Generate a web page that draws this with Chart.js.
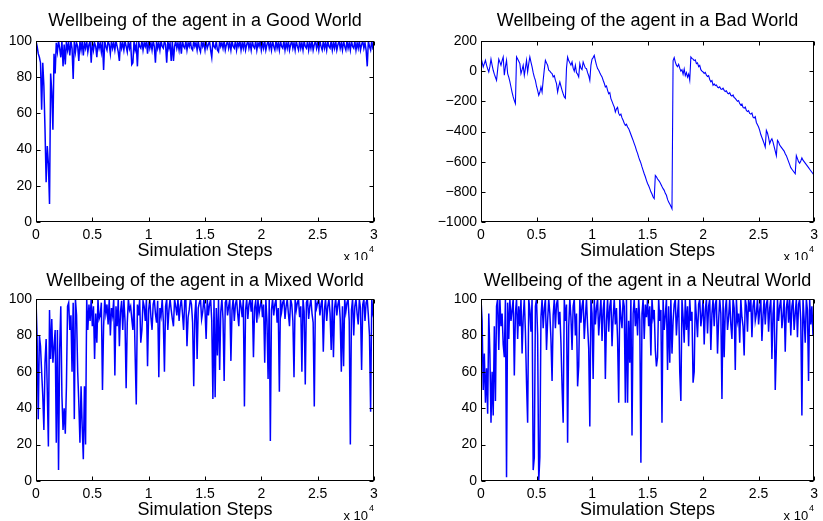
<!DOCTYPE html>
<html>
<head>
<meta charset="utf-8">
<script src="https://cdn.jsdelivr.net/npm/chart.js@4.4.1/dist/chart.umd.min.js"></script>
<style>
  html, body { margin: 0; padding: 0; background: #fff; }
  #wrap { position: relative; width: 823px; height: 521px; }
  canvas { position: absolute; }
</style>
</head>
<body>
<div id="wrap">
  <canvas id="good" width="411" height="260" style="left:0;top:0"></canvas>
  <canvas id="bad" width="412" height="260" style="left:411px;top:0"></canvas>
  <canvas id="mixed" width="411" height="261" style="left:0;top:260px"></canvas>
  <canvas id="neutral" width="412" height="261" style="left:411px;top:260px"></canvas>
</div>
<script>
// one sample every STEP simulation steps
const STEP = 100;
const xTicks = [0, 5000, 10000, 15000, 20000, 25000, 30000];
const xLabel = "Simulation Steps";

const goodWorld = [
  100, 97, 93, 91, 88, 62, 88, 75, 51, 22,
  42, 32, 10, 82, 72, 51, 93, 82, 99, 94,
  100, 96, 91, 100, 86, 98, 87, 100, 95, 99,
  92, 100, 96, 79, 100, 94, 99, 97, 89, 100,
  95, 100, 92, 99, 96, 100, 94, 98, 100, 88,
  100, 95, 99, 97, 91, 100, 96, 99, 94, 100,
  84, 100, 97, 95, 100, 98, 93, 100, 96, 99,
  95, 100, 97, 94, 89, 100, 96, 99, 95, 100,
  97, 94, 100, 96, 99, 87, 88, 100, 95, 98,
  86, 100, 97, 96, 100, 95, 99, 97, 100, 93,
  100, 96, 99, 95, 100, 97, 88, 100, 96, 99,
  95, 100, 97, 96, 100, 98, 88, 100, 96, 99,
  89, 100, 89, 97, 100, 96, 99, 95, 100, 93,
  100, 97, 96, 100, 95, 99, 97, 100, 96, 95,
  100, 97, 99, 95, 100, 96, 94, 100, 97, 99,
  95, 100, 96, 98, 100, 95, 91, 100, 97, 96,
  100, 95, 94, 100, 97, 99, 96, 100, 95, 98,
  100, 96, 99, 95, 100, 97, 96, 100, 95, 99,
  97, 100, 95, 99, 96, 100, 95, 98, 100, 96,
  99, 95, 100, 97, 96, 100, 95, 99, 97, 100,
  95, 99, 96, 100, 95, 98, 100, 96, 99, 95,
  100, 97, 95, 100, 96, 99, 95, 100, 97, 96,
  100, 95, 99, 96, 100, 95, 98, 100, 96, 99,
  95, 100, 97, 95, 100, 96, 99, 95, 100, 97,
  96, 100, 95, 99, 96, 100, 95, 98, 100, 96,
  99, 95, 100, 97, 95, 100, 96, 99, 95, 100,
  97, 96, 100, 95, 99, 96, 100, 95, 98, 100,
  96, 99, 95, 100, 97, 95, 100, 96, 99, 95,
  100, 97, 96, 100, 95, 99, 96, 100, 95, 98,
  100, 96, 99, 95, 86, 100, 97, 95, 100, 96,
  97
];

const badWorld = [
  90, 60, 28, 50, 72, 40, 15, -5, 30, 80,
  40, 6, -20, -40, -61, 10, 80, 60, 39, 70,
  94, -27, 30, 72, -16, -40, -70, -105, -140, -171,
  -195, -215, 94, 80, 65, 50, -16, 10, 39, -27,
  20, 72, -5, 50, 94, 60, 28, -10, -40, -61,
  -100, -127, -160, -140, -105, -138, -60, 10, 72, 55,
  39, 6, 0, -10, -16, -38, -30, -60, -83, -138,
  -100, -72, -100, -127, -150, -171, -180, 20, 94, 70,
  55, 40, 61, 20, 0, 39, -10, -20, -38, 50,
  20, 10, 61, 40, 20, 17, -10, -30, -61, 40,
  80, 90, 105, 70, 40, 17, 6, -10, -25, -38,
  -60, -80, -105, -98, -127, -150, -142, -182, -200, -220,
  -237, -271, -250, -240, -280, -293, -285, -310, -326, -345,
  -359, -352, -370, -381, -400, -420, -440, -459, -480, -500,
  -525, -545, -570, -591, -610, -635, -658, -680, -700, -724,
  -745, -760, -779, -800, -815, -834, -845, -691, -700, -715,
  -724, -735, -750, -765, -779, -790, -810, -823, -850, -868,
  -880, -895, -912, 70, 90, 60, 40, 30, 45, 20,
  0, 10, -20, 15, -30, -10, -40, -20, -60, 94,
  85, 80, 70, 75, 50, 55, 30, 38, 10, 0,
  -5, -15, -8, -27, -35, -30, -55, -70, -62, -94,
  -85, -95, -92, -105, -110, -104, -118, -120, -113, -127,
  -135, -130, -145, -150, -143, -160, -165, -158, -175, -180,
  -190, -200, -195, -215, -225, -218, -240, -245, -238, -260,
  -268, -262, -280, -285, -278, -305, -310, -302, -340, -355,
  -370, -392, -420, -440, -460, -480, -503, -392, -410, -440,
  -480, -460, -448, -470, -500, -530, -560, -459, -470, -490,
  -500, -510, -520, -530, -547, -560, -580, -600, -620, -640,
  -650, -660, -670, -680, -560, -580, -600, -610, -595, -575,
  -590, -600, -610, -620, -630, -640, -650, -660, -670, -680,
  -690
];

const mixedWorld = [
  100, 78, 34, 80, 74, 60, 47, 28, 65, 78,
  50, 19, 94, 67, 89, 65, 74, 83, 21, 83,
  6, 72, 96, 47, 28, 40, 26, 52, 96, 98,
  83, 91, 60, 98, 34, 100, 91, 60, 43, 21,
  52, 30, 12, 52, 20, 100, 83, 97, 88, 100,
  85, 96, 67, 92, 76, 100, 89, 91, 98, 50,
  85, 100, 92, 97, 86, 100, 80, 95, 91, 100,
  58, 96, 85, 100, 74, 93, 99, 83, 100, 88,
  51, 87, 100, 94, 96, 89, 83, 100, 69, 42,
  97, 91, 100, 76, 83, 99, 96, 88, 100, 63,
  94, 100, 90, 83, 97, 100, 92, 87, 99, 57,
  95, 91, 100, 88, 60, 96, 100, 83, 94, 100,
  94, 89, 85, 100, 96, 91, 100, 88, 96, 100,
  92, 83, 99, 100, 74, 90, 94, 100, 97, 87,
  52, 91, 100, 67, 95, 98, 100, 89, 93, 100,
  94, 78, 100, 91, 97, 100, 88, 45, 100, 46,
  95, 69, 100, 61, 93, 100, 89, 55, 98, 100,
  91, 96, 100, 66, 94, 100, 88, 97, 100, 92,
  85, 100, 96, 90, 100, 41, 94, 100, 89, 97,
  100, 93, 100, 68, 95, 99, 87, 100, 92, 96,
  100, 90, 97, 65, 100, 88, 56, 100, 22, 94,
  100, 91, 97, 100, 87, 95, 49, 100, 93, 98,
  100, 89, 96, 100, 92, 85, 100, 97, 88, 57,
  100, 94, 98, 100, 90, 96, 60, 100, 93, 53,
  98, 100, 89, 96, 100, 92, 87, 41, 100, 95,
  98, 100, 91, 97, 100, 71, 94, 100, 88, 96,
  100, 92, 72, 100, 68, 95, 100, 91, 97, 100,
  89, 60, 96, 63, 100, 93, 98, 100, 88, 20,
  94, 100, 80, 96, 100, 92, 86, 100, 95, 61,
  97, 100, 88, 98, 100, 91, 80, 38, 100, 93,
  97
];

const neutralWorld = [
  100, 88, 50, 70, 43, 62, 37, 92, 70, 32,
  60, 36, 85, 44, 96, 100, 72, 100, 85, 92,
  75, 68, 100, 2, 98, 78, 100, 88, 94, 100,
  58, 92, 100, 78, 96, 85, 100, 70, 90, 100,
  82, 54, 32, 100, 94, 82, 100, 6, 13, 96,
  100, 80, 0, 13, 90, 100, 84, 95, 100, 72,
  88, 100, 92, 78, 55, 91, 100, 84, 97, 100,
  86, 93, 76, 52, 32, 100, 88, 97, 21, 85,
  100, 90, 72, 96, 100, 80, 92, 52, 63, 100,
  87, 96, 100, 78, 90, 100, 85, 73, 30, 100,
  92, 56, 100, 86, 95, 100, 80, 91, 100, 77,
  94, 100, 56, 88, 100, 82, 96, 100, 74, 90,
  100, 86, 95, 78, 43, 100, 90, 84, 100, 96,
  43, 100, 43, 88, 65, 100, 25, 92, 100, 85,
  95, 80, 100, 88, 10, 92, 100, 78, 97, 90,
  100, 85, 96, 69, 100, 90, 94, 72, 63, 68,
  100, 88, 94, 32, 100, 83, 91, 100, 61, 96,
  65, 100, 70, 88, 97, 100, 80, 92, 100, 60,
  44, 100, 90, 76, 100, 83, 96, 74, 100, 88,
  93, 54, 60, 100, 90, 79, 97, 100, 85, 91,
  100, 75, 94, 100, 81, 96, 100, 72, 92, 100,
  85, 97, 100, 70, 88, 100, 92, 45, 100, 68,
  94, 100, 83, 90, 100, 86, 78, 100, 95, 61,
  100, 88, 92, 76, 100, 90, 85, 69, 100, 96,
  82, 100, 93, 100, 79, 96, 100, 88, 92, 100,
  86, 94, 100, 77, 91, 100, 86, 97, 100, 82,
  95, 100, 67, 92, 100, 50, 73, 100, 88, 96,
  100, 84, 91, 100, 71, 95, 100, 87, 100, 80,
  96, 100, 83, 92, 100, 79, 97, 100, 88, 36,
  100, 89, 76, 100, 94, 55, 100, 86, 96, 80,
  90
];

const FONT = '"Liberation Sans", Arial, Helvetica, sans-serif';

// MATLAB style box, inward ticks, title, x label and the x10^4 multiplier
const matlabFrame = {
  id: "matlabFrame",
  afterDraw(chart, args, opts) {
    const { ctx, chartArea: a, scales } = chart;
    const l = Math.round(a.left) + 0.5, r = Math.round(a.right) - 0.5;
    const t = Math.round(a.top) + 0.5, b = Math.round(a.bottom) - 0.5;
    ctx.save();
    ctx.strokeStyle = "#000";
    ctx.lineWidth = 1;
    ctx.strokeRect(l, t, r - l, b - t);
    ctx.beginPath();
    scales.x.ticks.forEach((tk) => {
      const px = Math.round(scales.x.getPixelForValue(tk.value)) + 0.5;
      ctx.moveTo(px, b); ctx.lineTo(px, b - 4);
      ctx.moveTo(px, t); ctx.lineTo(px, t + 4);
    });
    scales.y.ticks.forEach((tk) => {
      const py = Math.round(scales.y.getPixelForValue(tk.value)) + 0.5;
      ctx.moveTo(l, py); ctx.lineTo(l + 4, py);
      ctx.moveTo(r, py); ctx.lineTo(r - 4, py);
    });
    ctx.stroke();

    const cx = (a.left + a.right) / 2;
    ctx.fillStyle = "#000";
    ctx.textAlign = "center";
    ctx.textBaseline = "middle";
    ctx.font = "18px " + FONT;
    ctx.fillText(opts.title, cx, 21);
    ctx.fillText(xLabel, cx, a.bottom + 29);
    ctx.font = "13px " + FONT;
    ctx.textAlign = "right";
    ctx.fillText("x 10", a.right - 6, a.bottom + 35);
    ctx.font = "9px " + FONT;
    ctx.textAlign = "left";
    ctx.fillText("4", a.right - 5, a.bottom + 28);
    ctx.restore();
  },
};

function makeChart(id, title, values, yMin, yMax, yStep, box, lineWidth) {
  const points = values.map((v, i) => ({ x: i * STEP, y: v }));
  return new Chart(document.getElementById(id), {
    type: "line",
    data: {
      datasets: [{
        data: points,
        borderColor: "#0000ff",
        borderWidth: lineWidth,
        pointRadius: 0,
        tension: 0,
        fill: false,
      }],
    },
    options: {
      responsive: false,
      animation: false,
      devicePixelRatio: 1,
      parsing: false,
      layout: { padding: { top: box.top, right: box.right, left: 0, bottom: 0 } },
      plugins: {
        legend: { display: false },
        tooltip: { enabled: false },
        matlabFrame: { title },
      },
      scales: {
        x: {
          type: "linear",
          min: 0,
          max: 30000,
          afterBuildTicks: (s) => { s.ticks = xTicks.map((v) => ({ value: v })); },
          afterFit: (s) => { s.height = box.bottom; },
          grid: { display: false, drawTicks: false },
          border: { display: false },
          ticks: {
            autoSkip: false,
            maxRotation: 0,
            padding: 5,
            color: "#000",
            font: { family: FONT, size: 14 },
            callback: (v) => String(v / 10000),
          },
        },
        y: {
          min: yMin,
          max: yMax,
          afterFit: (s) => { s.width = box.left; },
          grid: { display: false, drawTicks: false },
          border: { display: false },
          ticks: {
            stepSize: yStep,
            padding: 4,
            color: "#000",
            font: { family: FONT, size: 14 },
            callback: (v) => (v < 0 ? "\u2212" + Math.abs(v) : String(v)),
          },
        },
      },
    },
    plugins: [matlabFrame],
  });
}

makeChart("good", "Wellbeing of the agent in a Good World", goodWorld, 0, 100, 20,
  { top: 41, right: 37, bottom: 38, left: 36 }, 1.5);
makeChart("bad", "Wellbeing of the agent in a Bad World", badWorld, -1000, 200, 200,
  { top: 41, right: 5, bottom: 38, left: 70 }, 1.1);
makeChart("mixed", "Wellbeing of the agent in a Mixed World", mixedWorld, 0, 100, 20,
  { top: 39, right: 37, bottom: 40, left: 36 }, 1.5);
makeChart("neutral", "Wellbeing of the agent in a Neutral World", neutralWorld, 0, 100, 20,
  { top: 39, right: 5, bottom: 40, left: 70 }, 1.5);
</script>
</body>
</html>
